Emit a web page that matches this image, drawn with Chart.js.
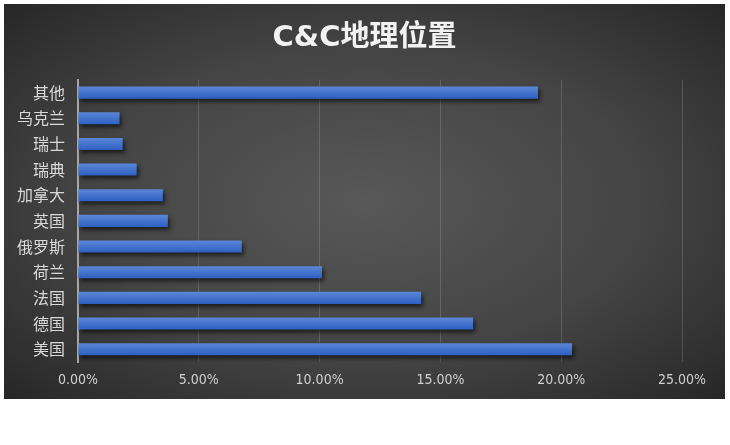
<!DOCTYPE html>
<html>
<head>
<meta charset="utf-8">
<script src="https://cdn.jsdelivr.net/npm/chart.js@4/dist/chart.umd.min.js"></script>
<style>
  body { margin: 0; background: #fff; }
  #box {
    position: absolute; left: 4px; top: 4px; width: 721px; height: 395px;
    background: radial-gradient(ellipse at 50% 50%, #585858 0%, #444 55%, #272727 100%);
  }
</style>
</head>
<body>
<div id="box"><canvas id="myChart" width="721" height="395"></canvas></div>
<script>
const countries = ['其他', '乌克兰', '瑞士', '瑞典', '加拿大', '英国', '俄罗斯', '荷兰', '法国', '德国', '美国'];
const shares = [19.04, 1.72, 1.85, 2.43, 3.51, 3.72, 6.78, 10.1, 14.2, 16.35, 20.45];
const xTicks = [0, 5, 10, 15, 20, 25];

// per-bar vertical gradient, like the office chart style
function barFill(context) {
  const chart = context.chart;
  const y = chart.scales.y;
  if (!chart.chartArea || !y) return '#4472c4';
  const mid = y.getPixelForValue(context.dataIndex);
  const g = chart.ctx.createLinearGradient(0, mid - 6, 0, mid + 6);
  g.addColorStop(0, '#5b87d8');
  g.addColorStop(1, '#2e60c2');
  return g;
}

const barShadow = {
  id: 'barShadow',
  beforeDatasetsDraw(chart) {
    const c = chart.ctx;
    c.save();
    c.shadowColor = 'rgba(0,0,0,0.6)';
    c.shadowOffsetX = 2;
    c.shadowOffsetY = 3;
    c.shadowBlur = 4;
  },
  afterDatasetsDraw(chart) {
    chart.ctx.restore();
  }
};

const ctx = document.getElementById('myChart');
new Chart(ctx, {
  type: 'bar',
  data: {
    labels: countries,
    datasets: [{
      data: shares,
      backgroundColor: barFill,
      borderWidth: 0,
      barPercentage: 0.47,
      categoryPercentage: 1
    }]
  },
  plugins: [barShadow],
  options: {
    indexAxis: 'y',
    responsive: false,
    animation: false,
    layout: { padding: 0 },
    plugins: {
      legend: { display: false },
      tooltip: { enabled: false },
      title: {
        display: true,
        text: 'C&C地理位置',
        color: '#f2f2f2',
        font: { family: "'DejaVu Sans', 'Noto Sans CJK SC', sans-serif", size: 29, weight: 'bold' },
        padding: { top: 17, bottom: 24 }
      }
    },
    scales: {
      x: {
        min: 0,
        max: 25,
        afterBuildTicks: (scale) => { scale.ticks = xTicks.map(v => ({ value: v })); },
        afterFit: (scale) => { scale.height = 37; },
        ticks: {
          color: '#d0d0d0',
          padding: 10,
          font: { family: "'Liberation Sans Narrow', 'DejaVu Sans Condensed', sans-serif", size: 14 },
          callback: (v) => Number(v).toFixed(2) + '%'
        },
        grid: { color: 'rgba(255,255,255,0.15)', lineWidth: 1, drawTicks: false },
        border: { display: false }
      },
      y: {
        afterFit: (scale) => { scale.width = 74; },
        ticks: {
          color: '#d9d9d9',
          padding: 5,
          font: { family: "'Noto Sans CJK SC', sans-serif", size: 16 }
        },
        grid: { display: false },
        border: { display: true, color: '#a6a6a6', width: 2 }
      },
      // empty right-hand strip so the plot ends where the reference does
      yRight: {
        type: 'category',
        position: 'right',
        labels: countries,
        afterFit: (scale) => { scale.width = 43; },
        ticks: { display: false },
        grid: { display: false },
        border: { display: false }
      }
    }
  }
});
</script>
</body>
</html>
